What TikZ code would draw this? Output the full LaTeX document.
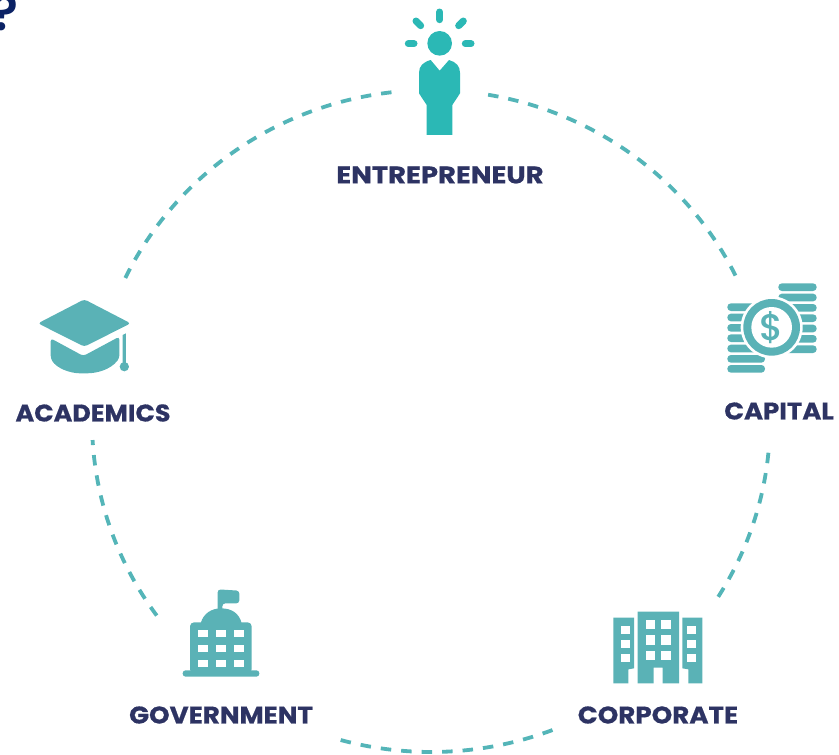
\documentclass[tikz,border=0pt]{standalone}
\usepackage{fontspec}
\setmainfont{Poppins}[BoldFeatures={FakeBold=0.6}]
\newfontfamily\qfont{Poppins SemiBold}
\newfontfamily\dfont{Poppins Medium}
\definecolor{teal}{HTML}{5AB2B6}
\definecolor{dashc}{HTML}{54B5B8}
\definecolor{personc}{HTML}{2BB8B5}
\definecolor{navy}{HTML}{2D3363}
\definecolor{qmark}{HTML}{0B2265}
\newcommand{\wlab}[2]{\scalebox{#1}[1]{#2}}
\tikzset{
  lab/.style={text=navy,font=\fontsize{24}{26}\selectfont\bfseries,inner sep=0pt,anchor=center},
  arcdash/.style={draw=dashc,line width=3.8pt,dash pattern=on 10.5pt off 10pt},
  ray/.style={draw=personc,line width=7pt,line cap=round},
  coin/.style={fill=teal,rounded corners=3.6pt}
}
\begin{document}
\begin{tikzpicture}[x=1pt,y=-1pt]
\useasboundingbox (0,0) rectangle (839,755);
\coordinate (c) at (431,421);
\node[text=qmark,font=\fontsize{50}{50}\selectfont\qfont,inner sep=0pt,anchor=base] (q) at (5,30) {?};
% ring
\draw[arcdash] ([shift={(205.6:339 and 331)}]c) arc[start angle=205.6,end angle=263.9,x radius=339,y radius=331];
\draw[arcdash] ([shift={(279.7:339 and 331)}]c) arc[start angle=279.7,end angle=334,x radius=339,y radius=331];
\draw[arcdash] ([shift={(5.5:339 and 331)}]c) arc[start angle=5.5,end angle=32.3,x radius=339,y radius=331];
\draw[arcdash] ([shift={(69:339 and 331)}]c) arc[start angle=69,end angle=106.6,x radius=339,y radius=331];
\draw[arcdash] ([shift={(144:339 and 331)}]c) arc[start angle=144,end angle=176.7,x radius=339,y radius=331];
% entrepreneur
\begin{scope}[shift={(390,0)},x=.33333pt,y=-.33333pt]
\fill[personc] (149,130) circle[radius=37];
\draw[ray] (149,36) -- (149,59);
\draw[ray] (78,63) -- (92,77);
\draw[ray] (220,63) -- (206,77);
\draw[ray] (55,131) -- (72,131);
\draw[ray] (226,131) -- (243,131);
\fill[personc] (122,180) -- (149,212) -- (177,180) .. controls (198,186) and (210,198) .. (210,218) -- (210,280) -- (187,315) -- (187,405) -- (110,405) -- (110,315) -- (87,280) -- (87,218) .. controls (87,198) and (100,186) .. (122,180) -- cycle;
\end{scope}
% capital
\begin{scope}[shift={(710,270)},x=.33333pt,y=-.33333pt]
\foreach \y in {40,71,102,133,164,195,226} \fill[coin] (205,\y) rectangle (320,\y+23);
\foreach \y in {100,131,162,193,224,255,285} \fill[coin] (52,\y) rectangle (165,\y+23);
\fill[white] (185,172) circle[radius=93];
\fill[teal] (185,172) circle[radius=85];
\fill[white] (185,172) circle[radius=61];
\node[text=teal,font=\fontsize{37}{37}\selectfont\dfont,inner sep=0pt] (dollar) at (185,172) {\$};
\end{scope}
% academics
\begin{scope}[shift={(20,290)},x=.33333pt,y=-.33333pt]
\fill[teal,rounded corners=3pt] (54,100) -- (193,28) -- (332,100) -- (193,170) -- cycle;
\fill[teal,rounded corners=3pt] (92,145) -- (190,198) -- (298,140) -- (298,205) .. controls (270,240) and (230,250) .. (190,250) .. controls (150,250) and (110,235) .. (92,205) -- cycle;
\fill[teal] (308,135) -- (318,130) -- (318,225) -- (308,225) -- cycle;
\fill[teal] (313,230) circle[radius=14];
\end{scope}
% government
\begin{scope}[shift={(170,580)},x=.33333pt,y=-.33333pt]
\fill[teal,rounded corners=2.9pt] (38,271) rectangle (268,290);
\fill[teal,rounded corners=4pt] (60,280) -- (60,127) -- (245,127) -- (245,280) -- cycle;
\fill[teal] (92,130) .. controls (100,100) and (125,85) .. (153,85) .. controls (185,85) and (208,100) .. (215,130) -- cycle;
\fill[teal,rounded corners=3pt] (143,100) -- (143,28) -- (208,32) -- (208,70) -- (157,70) -- (157,100) -- cycle;
\foreach \y/\h in {151/21,195/22,240/22} \foreach \x in {83,137,191} \fill[white] (\x,\y) rectangle (\x+32,\y+\h);
\end{scope}
% corporate
\begin{scope}[shift={(600,600)},x=.33333pt,y=-.33333pt]
\fill[teal] (40,53) -- (102,53) -- (102,205) -- (85,208) -- (85,250) -- (40,250) -- cycle;
\fill[teal] (113,35) -- (237,35) -- (237,250) -- (188,250) -- (188,203) -- (161,203) -- (161,250) -- (113,250) -- cycle;
\fill[teal] (247,53) -- (307,53) -- (307,250) -- (265,250) -- (265,208) -- (247,205) -- cycle;
\foreach \y in {78,120,162} {\fill[white] (63,\y) rectangle (89,\y+24); \fill[white] (261,\y) rectangle (287,\y+24);}
\foreach \y in {60,106,152} {\fill[white] (137,\y) rectangle (166,\y+28); \fill[white] (183,\y) rectangle (212,\y+28);}
\end{scope}
% labels
\node[lab] (entrepreneur) at (440,175) {\wlab{1.145}{ENTREPRENEUR}};
\node[lab] (academics) at (93,413) {\wlab{1.06}{ACADEMICS}};
\node[lab] (capital) at (779,411) {\wlab{1.08}{CAPITAL}};
\node[lab] (government) at (221,715) {\wlab{1.09}{GOVERNMENT}};
\node[lab] (corporate) at (658,715) {\wlab{1.09}{CORPORATE}};
\end{tikzpicture}
\end{document}
